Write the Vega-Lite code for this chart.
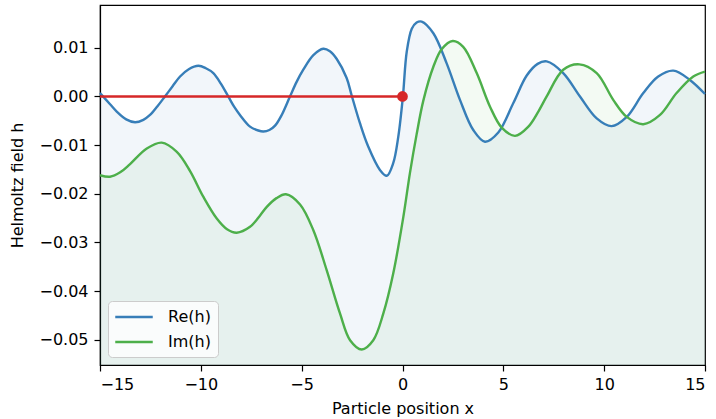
{
  "$schema": "https://vega.github.io/schema/vega-lite/v6.json",
  "width": 605,
  "height": 360,
  "autosize": "none",
  "padding": {"left": 100, "top": 5, "right": 11, "bottom": 54},
  "background": "white",
  "datasets": {
    "h": [
      {"series":"Re(h)","x":-15,"y":0.0007},{"series":"Re(h)","x":-14.5,"y":-0.0016},{"series":"Re(h)","x":-14.17,"y":-0.0031},{"series":"Re(h)","x":-13.7,"y":-0.0047},{"series":"Re(h)","x":-13.26,"y":-0.0053},{"series":"Re(h)","x":-12.85,"y":-0.0048},{"series":"Re(h)","x":-12.52,"y":-0.0038},{"series":"Re(h)","x":-12.15,"y":-0.002},{"series":"Re(h)","x":-11.78,"y":0},{"series":"Re(h)","x":-11.4,"y":0.0021},{"series":"Re(h)","x":-11.03,"y":0.0041},{"series":"Re(h)","x":-10.6,"y":0.0056},{"series":"Re(h)","x":-10.12,"y":0.0063},{"series":"Re(h)","x":-9.75,"y":0.0058},{"series":"Re(h)","x":-9.38,"y":0.0048},{"series":"Re(h)","x":-9.0,"y":0.0026},{"series":"Re(h)","x":-8.64,"y":0},{"series":"Re(h)","x":-8.35,"y":-0.0021},{"series":"Re(h)","x":-8.06,"y":-0.0038},{"series":"Re(h)","x":-7.56,"y":-0.0062},{"series":"Re(h)","x":-7.15,"y":-0.007},{"series":"Re(h)","x":-6.9,"y":-0.0072},{"series":"Re(h)","x":-6.6,"y":-0.0069},{"series":"Re(h)","x":-6.32,"y":-0.006},{"series":"Re(h)","x":-5.99,"y":-0.0038},{"series":"Re(h)","x":-5.58,"y":0},{"series":"Re(h)","x":-5.25,"y":0.003},{"series":"Re(h)","x":-4.92,"y":0.0055},{"series":"Re(h)","x":-4.42,"y":0.0085},{"series":"Re(h)","x":-3.93,"y":0.0098},{"series":"Re(h)","x":-3.6,"y":0.0093},{"series":"Re(h)","x":-3.26,"y":0.0077},{"series":"Re(h)","x":-2.77,"y":0.0038},{"series":"Re(h)","x":-2.52,"y":0.0002},{"series":"Re(h)","x":-2.11,"y":-0.0055},{"series":"Re(h)","x":-1.7,"y":-0.0103},{"series":"Re(h)","x":-1.12,"y":-0.0151},{"series":"Re(h)","x":-0.78,"y":-0.0163},{"series":"Re(h)","x":-0.46,"y":-0.0137},{"series":"Re(h)","x":-0.21,"y":-0.0083},{"series":"Re(h)","x":0.02,"y":0},{"series":"Re(h)","x":0.21,"y":0.0092},{"series":"Re(h)","x":0.46,"y":0.0139},{"series":"Re(h)","x":0.7,"y":0.0152},{"series":"Re(h)","x":0.95,"y":0.0154},{"series":"Re(h)","x":1.53,"y":0.013},{"series":"Re(h)","x":2.19,"y":0.0068},{"series":"Re(h)","x":2.85,"y":-0.0007},{"series":"Re(h)","x":3.51,"y":-0.0069},{"series":"Re(h)","x":4.09,"y":-0.0093},{"series":"Re(h)","x":4.75,"y":-0.0074},{"series":"Re(h)","x":5.49,"y":-0.0014},{"series":"Re(h)","x":6.16,"y":0.0043},{"series":"Re(h)","x":6.7,"y":0.0067},{"series":"Re(h)","x":7.15,"y":0.0072},{"series":"Re(h)","x":7.97,"y":0.0048},{"series":"Re(h)","x":8.8,"y":0},{"series":"Re(h)","x":9.63,"y":-0.0045},{"series":"Re(h)","x":10.37,"y":-0.0061},{"series":"Re(h)","x":11.12,"y":-0.0042},{"series":"Re(h)","x":11.94,"y":0.0007},{"series":"Re(h)","x":12.68,"y":0.0041},{"series":"Re(h)","x":13.43,"y":0.0053},{"series":"Re(h)","x":14.25,"y":0.0034},{"series":"Re(h)","x":15,"y":0.0005},
      {"series":"Im(h)","x":-15,"y":-0.0162},{"series":"Im(h)","x":-14.5,"y":-0.0165},{"series":"Im(h)","x":-14.0,"y":-0.0156},{"series":"Im(h)","x":-13.51,"y":-0.0139},{"series":"Im(h)","x":-12.68,"y":-0.0107},{"series":"Im(h)","x":-11.94,"y":-0.0095},{"series":"Im(h)","x":-11.19,"y":-0.0114},{"series":"Im(h)","x":-10.54,"y":-0.0153},{"series":"Im(h)","x":-9.88,"y":-0.0206},{"series":"Im(h)","x":-9.21,"y":-0.0251},{"series":"Im(h)","x":-8.7,"y":-0.0273},{"series":"Im(h)","x":-8.22,"y":-0.028},{"series":"Im(h)","x":-7.56,"y":-0.0268},{"series":"Im(h)","x":-7.07,"y":-0.0245},{"series":"Im(h)","x":-6.73,"y":-0.0227},{"series":"Im(h)","x":-6.25,"y":-0.0209},{"series":"Im(h)","x":-5.78,"y":-0.0201},{"series":"Im(h)","x":-5.08,"y":-0.0222},{"series":"Im(h)","x":-4.42,"y":-0.0275},{"series":"Im(h)","x":-3.76,"y":-0.0357},{"series":"Im(h)","x":-3.1,"y":-0.0446},{"series":"Im(h)","x":-2.6,"y":-0.0501},{"series":"Im(h)","x":-2.02,"y":-0.052},{"series":"Im(h)","x":-1.45,"y":-0.0501},{"series":"Im(h)","x":-0.95,"y":-0.0446},{"series":"Im(h)","x":-0.46,"y":-0.0364},{"series":"Im(h)","x":0.04,"y":-0.0248},{"series":"Im(h)","x":0.37,"y":-0.0157},{"series":"Im(h)","x":0.7,"y":-0.0078},{"series":"Im(h)","x":1.03,"y":-0.0009},{"series":"Im(h)","x":1.53,"y":0.0061},{"series":"Im(h)","x":1.94,"y":0.0097},{"series":"Im(h)","x":2.49,"y":0.0114},{"series":"Im(h)","x":3.01,"y":0.0102},{"series":"Im(h)","x":3.68,"y":0.0048},{"series":"Im(h)","x":4.34,"y":-0.0021},{"series":"Im(h)","x":4.92,"y":-0.0064},{"series":"Im(h)","x":5.58,"y":-0.0081},{"series":"Im(h)","x":6.24,"y":-0.0062},{"series":"Im(h)","x":6.75,"y":-0.003},{"series":"Im(h)","x":7.15,"y":0},{"series":"Im(h)","x":7.97,"y":0.0055},{"series":"Im(h)","x":8.77,"y":0.0066},{"series":"Im(h)","x":9.63,"y":0.0048},{"series":"Im(h)","x":10.45,"y":-0.0007},{"series":"Im(h)","x":11.12,"y":-0.0042},{"series":"Im(h)","x":11.94,"y":-0.0057},{"series":"Im(h)","x":12.77,"y":-0.0038},{"series":"Im(h)","x":13.59,"y":0.0007},{"series":"Im(h)","x":14.42,"y":0.0041},{"series":"Im(h)","x":15,"y":0.0051}
    ],
    "red": [{"x":-15,"y":0},{"x":0,"y":0}],
    "dot": [{"x":0,"y":0}]
  },
  "layer": [
    {
      "data": {"name": "h"},
      "transform": [{"filter": "datum.series === 'Re(h)'"}],
      "mark": {"type": "area", "interpolate": "catmull-rom", "color": "#377eb8", "fillOpacity": 0.065},
      "encoding": {
        "x": {"field": "x", "type": "quantitative", "scale": {"domain": [-15, 15], "nice": false, "zero": false},
              "axis": {"values": [-15,-10,-5,0,5,10,15], "title": "Particle position  x"}},
        "y": {"field": "y", "type": "quantitative", "stack": null, "scale": {"domain": [-0.0552, 0.0188], "nice": false, "zero": false},
              "axis": {"values": [-0.05,-0.04,-0.03,-0.02,-0.01,0,0.01], "format": ".2f", "title": "Helmoltz field  h"}},
        "y2": {"datum": -0.0552}
      }
    },
    {
      "data": {"name": "h"},
      "transform": [{"filter": "datum.series === 'Im(h)'"}],
      "mark": {"type": "area", "interpolate": "catmull-rom", "color": "#4daf4a", "fillOpacity": 0.065},
      "encoding": {
        "x": {"field": "x", "type": "quantitative"},
        "y": {"field": "y", "type": "quantitative", "stack": null},
        "y2": {"datum": -0.0552}
      }
    },
    {
      "data": {"name": "h"},
      "mark": {"type": "line", "interpolate": "catmull-rom", "strokeWidth": 2.4},
      "encoding": {
        "x": {"field": "x", "type": "quantitative"},
        "y": {"field": "y", "type": "quantitative"},
        "color": {"field": "series", "type": "nominal", "sort": ["Re(h)","Im(h)"], "scale": {"domain": ["Re(h)","Im(h)"], "range": ["#377eb8","#4daf4a"]},
                   "legend": {"title": null}}
      }
    },
    {
      "data": {"name": "red"},
      "mark": {"type": "line", "color": "#d62728", "strokeWidth": 2.4},
      "encoding": {
        "x": {"field": "x", "type": "quantitative"},
        "y": {"field": "y", "type": "quantitative"}
      }
    },
    {
      "data": {"name": "dot"},
      "mark": {"type": "point", "filled": true, "opacity": 1, "color": "#d62728", "size": 115},
      "encoding": {
        "x": {"field": "x", "type": "quantitative"},
        "y": {"field": "y", "type": "quantitative"}
      }
    }
  ],
  "config": {
    "font": "DejaVu Sans",
    "view": {"stroke": "black", "strokeWidth": 1.2},
    "axis": {
      "domainColor": "black", "domainWidth": 1.2, "tickColor": "black", "tickWidth": 1.2, "tickSize": 6,
      "grid": false, "labelFont": "DejaVu Sans", "labelFontSize": 16, "labelColor": "black",
      "titleFont": "DejaVu Sans", "titleFontSize": 16, "titleFontWeight": "normal", "titleColor": "black",
      "labelPadding": 5
    },
    "axisX": {"titlePadding": 8},
    "axisY": {"titlePadding": 13, "labelPadding": 6},
    "legend": {
      "orient": "none", "legendX": 8, "legendY": 296,
      "fillColor": "rgba(255,255,255,0.8)", "strokeColor": "#cccccc", "cornerRadius": 4, "padding": 7,
      "symbolType": "M-2.5,0H2.5", "symbolSize": 225, "symbolStrokeWidth": 2.5,
      "symbolOffset": 10, "labelOffset": 25,
      "labelFont": "DejaVu Sans", "labelFontSize": 16, "labelColor": "black", "rowPadding": 8
    }
  }
}
